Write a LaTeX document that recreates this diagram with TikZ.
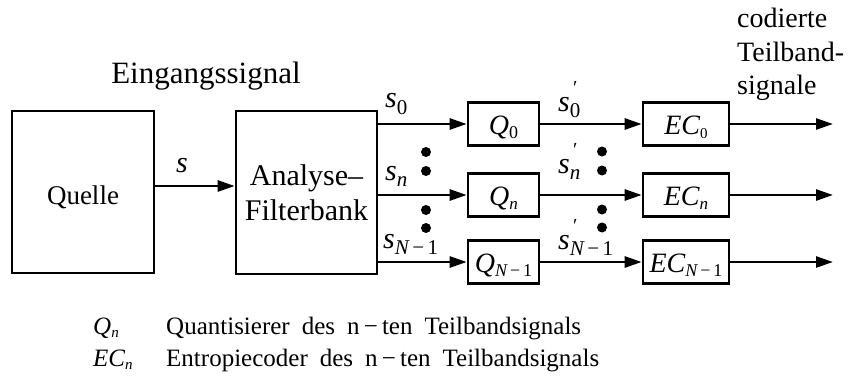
\documentclass[tikz,border=0pt]{standalone}
\usepackage{fontspec}
\setmainfont{Liberation Serif}
\usetikzlibrary{arrows.meta}
\newcommand\fs[1]{\fontsize{#1}{#1}\selectfont}
\newcommand\sg[1]{{\fs{30}\itshape s}\raisebox{-6pt}{\fs{21}#1}}
\newcommand\sgp[1]{{\fs{30}\itshape s}\rlap{\raisebox{17pt}{\fs{20}\,\char"2032}}\raisebox{-6pt}{\fs{21}#1}}
\newcommand\bxl[3]{\smash{\raisebox{-10pt}{{\fs{28}\itshape #1}\raisebox{-4pt}{\fs{#3}#2}}}}
\tikzset{
 blk/.style={draw, line width=2.6pt, inner sep=0pt},
 arr/.style={line width=2.6pt, -{Triangle[length=17pt,width=11pt]}},
 lbl/.style={inner sep=0pt, anchor=base west},
 dotm/.style={circle, fill, inner sep=0pt, minimum size=10pt},
}
\begin{document}
\begin{tikzpicture}[x=1pt,y=-1pt]
\useasboundingbox (0,0) rectangle (853,377);
% main blocks
\node[blk, minimum width=142pt, minimum height=162pt] (src) at (83,192) {\smash{\raisebox{-12pt}{\fs{27}Quelle}}};
\node[blk, minimum width=141pt, minimum height=163pt, align=center,
  font=\fontsize{30}{35}\selectfont] (fb) at (306.5,192.5)
  {Analyse--\\Filterbank};
\node[inner sep=0pt, anchor=base] (eing) at (206,84) {\fs{31}Eingangssignal};
% quantizers
\node[blk, minimum width=71pt, minimum height=43pt] (q0) at (503.5,124) {\bxl{Q}{0}{18}};
\node[blk, minimum width=71pt, minimum height=43pt] (qn) at (503.5,195) {\bxl{Q}{\itshape n}{17}};
\node[blk, minimum width=71pt, minimum height=43pt] (qN) at (503.5,262) {\bxl{Q}{\itshape N\upshape\,\char"2212\,1}{18}};
% entropy coders
\node[blk, minimum width=86pt, minimum height=43pt] (e0) at (686,124) {\bxl{EC}{0}{15}};
\node[blk, minimum width=86pt, minimum height=43pt] (en) at (686,195) {\bxl{EC}{\itshape n}{17}};
\node[blk, minimum width=86pt, minimum height=43pt] (eN) at (686,262) {\bxl{EC}{\itshape N\upshape\,\char"2212\,1}{18}};
% output end points
\coordinate (o0) at (833,124);
\coordinate (on) at (833,195);
\coordinate (oN) at (833,262);
% connectors
\draw[arr] (src.east |- 0,186) -- (fb.west |- 0,186);
\draw[arr] (fb.east |- q0) -- (q0.west);
\draw[arr] (fb.east |- qn) -- (qn.west);
\draw[arr] (fb.east |- qN) -- (qN.west);
\draw[arr] (q0.east) -- (e0.west);
\draw[arr] (qn.east) -- (en.west);
\draw[arr] (qN.east) -- (eN.west);
\draw[arr] (e0.east) -- (o0);
\draw[arr] (en.east) -- (on);
\draw[arr] (eN.east) -- (oN);
% signal labels
\node[lbl] (ls) at (176,172) {\fs{30}\itshape s};
\node[lbl] (ls0) at (385,108) {\sg{0}};
\node[lbl] (lsn) at (385,180) {\sg{\itshape n}};
\node[lbl] (lsN) at (383,248) {\sg{\itshape N\upshape\,\char"2212\,1}};
\node[lbl] (lp0) at (558,111) {\sgp{0}};
\node[lbl] (lpn) at (558,173) {\sgp{\itshape n}};
\node[lbl] (lpN) at (558,249) {\sgp{\itshape N\upshape\,\char"2212\,1}};
% dots
\foreach \yy [count=\i] in {152,171,210,228} {
  \node[dotm] (dl\i) at (426,\yy) {};
  \node[dotm] (dr\i) at (602,\yy-0.5) {};
}
% output label
\node[lbl] (c1) at (737,28) {\fs{28}codierte};
\node[lbl] (c2) at (737,62) {\fs{28}Teilband-};
\node[lbl] (c3) at (737,95) {\fs{28}signale};
% legend
\node[lbl] (kq) at (93,334) {{\fs{25}\itshape Q}\raisebox{-3pt}{\fs{15}\itshape n}};
\node[lbl] (ke) at (93,366) {{\fs{25}\itshape EC}\raisebox{-3pt}{\fs{15}\itshape n}};
\node[lbl] (tq) at (166,334) {\fs{25}\spaceskip=0.48em Quantisierer des n\,\char"2212\,ten Teilbandsignals};
\node[lbl] (te) at (166,366) {\fs{25}\spaceskip=0.48em Entropiecoder des n\,\char"2212\,ten Teilbandsignals};
\end{tikzpicture}
\end{document}
